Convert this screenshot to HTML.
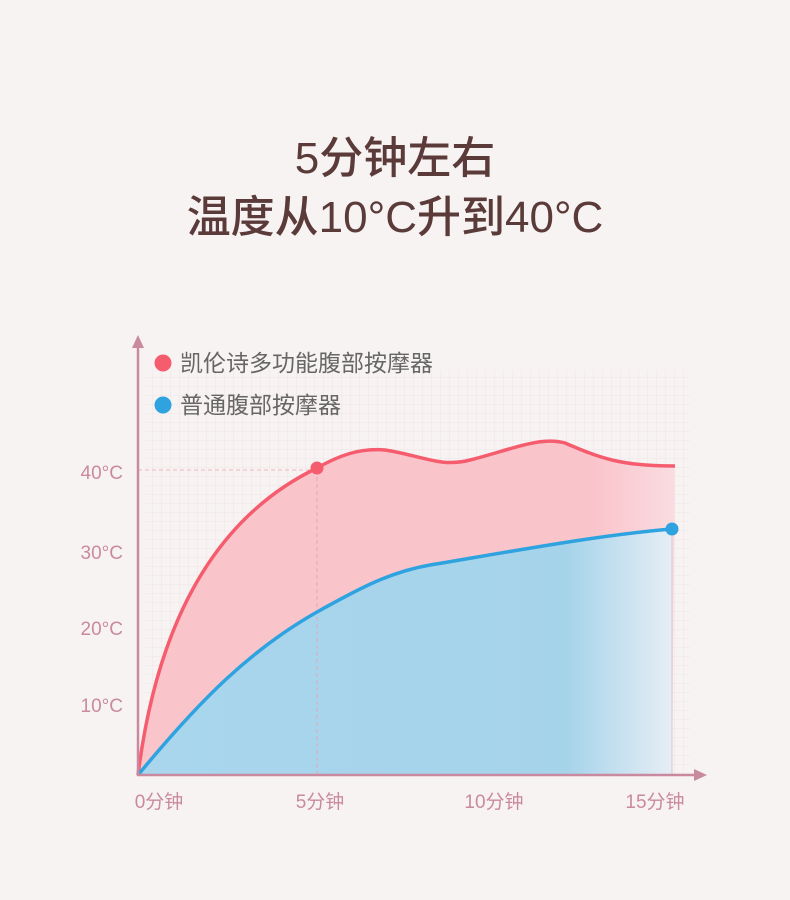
<!DOCTYPE html>
<html><head><meta charset="utf-8"><style>
body{margin:0;width:790px;height:900px;background:#f8f3f3;font-family:"Liberation Sans","Noto Sans CJK SC",sans-serif;overflow:hidden}
.t{position:absolute;left:0;width:790px;text-align:center;color:#5b3b39;font-size:44px;font-weight:500}
</style></head><body>
<div class="t" style="top:122px">5分钟左右</div>
<div class="t" style="top:181px">温度从10°C升到40°C</div>
<svg width="790" height="900" style="position:absolute;left:0;top:0">
<defs>
<pattern id="g" width="9" height="9" patternUnits="userSpaceOnUse"><path d="M9 0V9H0" fill="none" stroke="#eddcdc" stroke-width="0.8"/></pattern>
<linearGradient id="bf" x1="0" x2="1" y1="0" y2="0"><stop offset="0" stop-color="#a9d6ec"/><stop offset="0.8" stop-color="#a5d3ea"/><stop offset="1" stop-color="#e6eef5"/></linearGradient>
<linearGradient id="rf" x1="0" x2="1"><stop offset="0" stop-color="#fac4cb"/><stop offset="0.85" stop-color="#fac4cb"/><stop offset="1" stop-color="#f9dde1"/></linearGradient>
</defs>
<rect x="145" y="370" width="545" height="405" fill="url(#g)" opacity="0.8"/>
<path d="M138 775 C160 600 230 510 317 468 C340 455 360 448 385 450 C420 455 440 468 470 460 C510 450 540 436 565 443 C600 458 620 466 675 466 L672 775 Z" fill="url(#rf)"/>
<path d="M138 775 C200 700 250 650 317 612 C360 588 390 572 430 565 C520 550 600 535 672 529 L672 775 Z" fill="url(#bf)"/>
<line x1="138" y1="470" x2="317" y2="470" stroke="#e7b4bd" stroke-dasharray="4 3"/>
<line x1="317" y1="470" x2="317" y2="775" stroke="#e7a8b6" stroke-dasharray="4 3"/>
<line x1="672" y1="529" x2="672" y2="775" stroke="#d9c8cc"/>
<path d="M138 775 C160 600 230 510 317 468 C340 455 360 448 385 450 C420 455 440 468 470 460 C510 450 540 436 565 443 C600 458 620 466 675 466" fill="none" stroke="#f55d6e" stroke-width="3.5"/>
<path d="M138 775 C200 700 250 650 317 612 C360 588 390 572 430 565 C520 550 600 535 672 529" fill="none" stroke="#2ea3e0" stroke-width="3.5"/>
<circle cx="317" cy="468" r="6.5" fill="#f55d6e"/>
<circle cx="672" cy="529" r="6.5" fill="#2ea3e0"/>
<line x1="138" y1="348" x2="138" y2="776" stroke="#c98a9f" stroke-width="2.5"/>
<path d="M132 348 L138 335 L144 348Z" fill="#c98a9f"/>
<line x1="137" y1="775" x2="695" y2="775" stroke="#c98a9f" stroke-width="2.5"/>
<path d="M694 769 L707 775 L694 781Z" fill="#c98a9f"/>
<circle cx="163" cy="363" r="8.5" fill="#f55d6e"/>
<circle cx="163" cy="405" r="8.5" fill="#2ea3e0"/>
<g font-size="23" fill="#666">
<text x="180" y="371">凯伦诗多功能腹部按摩器</text>
<text x="180" y="413">普通腹部按摩器</text>
</g>
<g font-size="19" fill="#c98a9f" text-anchor="end">
<text x="123" y="479">40°C</text><text x="123" y="559">30°C</text><text x="123" y="635">20°C</text><text x="123" y="712">10°C</text>
</g>
<g font-size="19" fill="#c98a9f" text-anchor="middle">
<text x="159" y="808">0分钟</text><text x="320" y="808">5分钟</text><text x="494" y="808">10分钟</text><text x="655" y="808">15分钟</text>
</g>
</svg>
</body></html>
